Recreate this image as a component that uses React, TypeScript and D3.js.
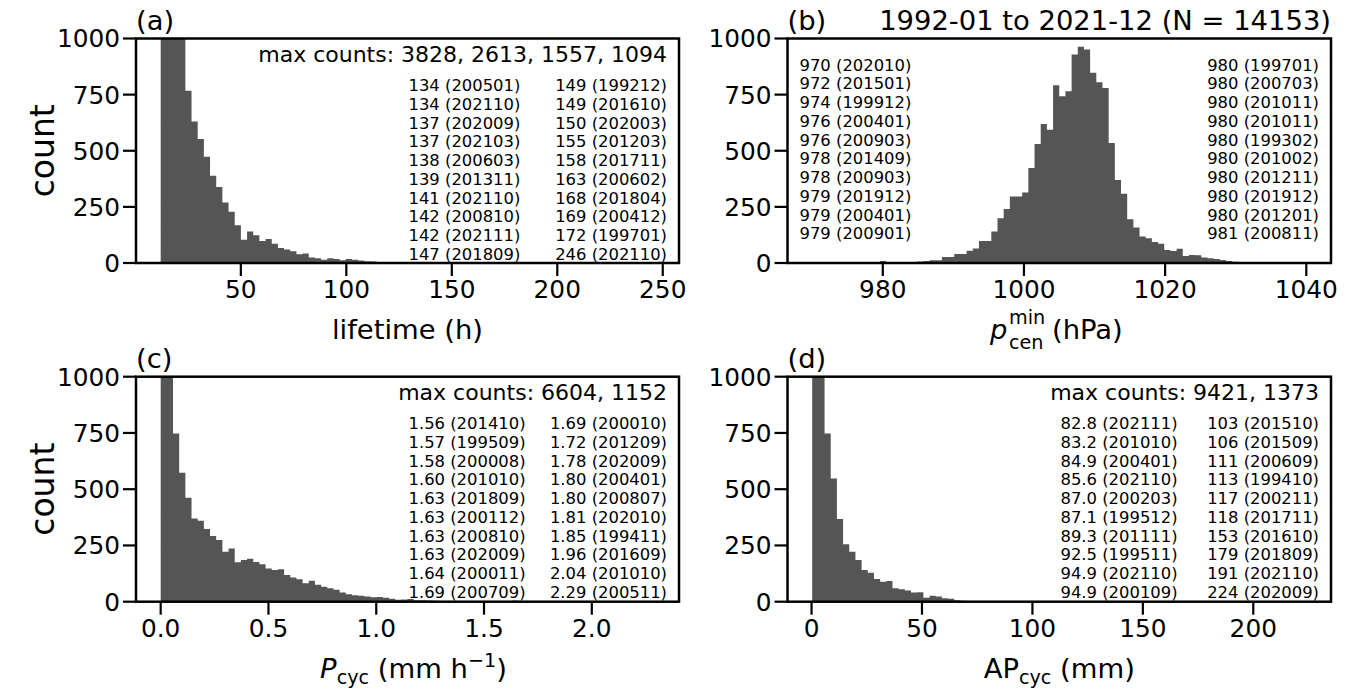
import React from "react";
import * as d3 from "d3";

// ---------- DATA ----------
const NBINS = 80;

// (a) lifetime (h): 80 bins between 12 and 246
const lifetimeRange = [12, 246];
const lifetimeCounts = [
  3828, 2613, 1557, 1094, 767, 630, 552, 473, 389, 339,
  270, 228, 168, 104, 140, 124, 98, 107, 86, 67,
  60, 52, 39, 42, 25, 21, 15, 21, 18, 12,
  18, 15, 11, 8, 7, 5, 4, 3, 3, 2,
  2, 2, 2, 2, 3, 0, 3, 1, 1, 1,
  0, 1, 0, 2, 1, 0, 0, 0, 0, 0,
  0, 0, 0, 0, 0, 0, 0, 0, 0, 0,
  0, 0, 0, 0, 0, 0, 0, 0, 0, 1,
];
const lifetimeTicks = [50, 100, 150, 200, 250];
const lifetimeMax = "max counts: 3828, 2613, 1557, 1094";
const lifetimeCol1 = [
  "134 (200501)", "134 (202110)", "137 (202009)", "137 (202103)", "138 (200603)",
  "139 (201311)", "141 (202110)", "142 (200810)", "142 (202111)", "147 (201809)",
];
const lifetimeCol2 = [
  "149 (199212)", "149 (201610)", "150 (202003)", "155 (201203)", "158 (201711)",
  "163 (200602)", "168 (201804)", "169 (200412)", "172 (199701)", "246 (202110)",
];

// (b) minimum central pressure (hPa): 80 bins between 970 and 1040
const pressureRange = [970, 1040];
const pressureCounts = [
  1, 0, 1, 0, 1, 0, 2, 0, 0, 2,
  3, 9, 2, 2, 3, 4, 5, 7, 9, 12,
  12, 27, 27, 40, 40, 55, 65, 98, 98, 140,
  199, 241, 296, 296, 314, 423, 530, 619, 594, 792,
  743, 765, 929, 963, 951, 847, 805, 780, 534, 370,
  308, 195, 158, 118, 110, 94, 86, 58, 54, 64,
  31, 36, 34, 24, 21, 18, 13, 9, 6, 4,
  3, 2, 2, 1, 1, 1, 1, 0, 0, 1,
];
const pressureTicks = [980, 1000, 1020, 1040];
const pressureColL = [
  "970 (202010)", "972 (201501)", "974 (199912)", "976 (200401)", "976 (200903)",
  "978 (201409)", "978 (200903)", "979 (201912)", "979 (200401)", "979 (200901)",
];
const pressureColR = [
  "980 (199701)", "980 (200703)", "980 (201011)", "980 (201011)", "980 (199302)",
  "980 (201002)", "980 (201211)", "980 (201912)", "980 (201201)", "981 (200811)",
];
const titleText = "1992-01 to 2021-12 (N = 14153)";

// (c) P_cyc (mm/h): 80 bins between 0 and 2.29
const precipRange = [0, 2.29];
const precipCounts = [
  6604, 1152, 748, 573, 462, 370, 360, 323, 292, 274,
  222, 237, 175, 185, 191, 177, 167, 148, 141, 144,
  119, 108, 100, 82, 93, 75, 67, 60, 53, 41,
  33, 29, 27, 23, 20, 21, 18, 13, 9, 10,
  12, 7, 6, 5, 4, 3, 3, 2, 2, 2,
  1, 1, 1, 1, 2, 2, 0, 5, 0, 2,
  1, 0, 3, 1, 1, 0, 0, 0, 1, 0,
  0, 1, 0, 0, 0, 0, 0, 0, 0, 1,
];
const precipTicks = [0.0, 0.5, 1.0, 1.5, 2.0];
const precipMax = "max counts: 6604, 1152";
const precipCol1 = [
  "1.56 (201410)", "1.57 (199509)", "1.58 (200008)", "1.60 (201010)", "1.63 (201809)",
  "1.63 (200112)", "1.63 (200810)", "1.63 (202009)", "1.64 (200011)", "1.69 (200709)",
];
const precipCol2 = [
  "1.69 (200010)", "1.72 (201209)", "1.78 (202009)", "1.80 (200401)", "1.80 (200807)",
  "1.81 (202010)", "1.85 (199411)", "1.96 (201609)", "2.04 (201010)", "2.29 (200511)",
];

// (d) AP_cyc (mm): 80 bins between 0.3 and 224
const accumRange = [0.3, 224];
const accumCounts = [
  9421, 1373, 748, 548, 368, 255, 222, 185, 141, 129,
  101, 89, 92, 60, 55, 50, 41, 42, 18, 27,
  23, 15, 13, 7, 4, 3, 3, 3, 2, 2,
  2, 3, 0, 3, 0, 0, 1, 1, 0, 1,
  1, 1, 1, 0, 0, 0, 0, 0, 0, 0,
  0, 0, 0, 0, 1, 0, 0, 0, 0, 0,
  0, 0, 0, 1, 0, 0, 0, 0, 1, 0,
  0, 0, 0, 0, 0, 0, 0, 0, 0, 1,
];
const accumTicks = [0, 50, 100, 150, 200];
const accumMax = "max counts: 9421, 1373";
const accumCol1 = [
  "82.8 (202111)", "83.2 (201010)", "84.9 (200401)", "85.6 (202110)", "87.0 (200203)",
  "87.1 (199512)", "89.3 (201111)", "92.5 (199511)", "94.9 (202110)", "94.9 (200109)",
];
const accumCol2 = [
  "103 (201510)", "106 (201509)", "111 (200609)", "113 (199410)", "117 (200211)",
  "118 (201711)", "153 (201610)", "179 (201809)", "191 (202110)", "224 (202009)",
];

const yTicks = [0, 250, 500, 750, 1000];

// ---------- STYLE ----------
const FONT = "'DejaVu Sans', sans-serif";
const BAR = "#555555";
const TICK_FS = 24.8;
const LABEL_FS = 27.4;
const SUB_FS = 19.2;
const MAX_FS = 22;
const LIST_FS = 16.4;
const LIST_DY = 18.75;

type PanelProps = {
  id: string;
  left: number; right: number; top: number; bottom: number;
  range: number[];
  counts: number[];
  ticks: number[];
  tickFmt: (v: number) => string;
  letter: string;
  xlabel: React.ReactNode;
  children?: React.ReactNode;
};

function Panel(p: PanelProps) {
  const [a, b] = p.range;
  const pad = 0.05 * (b - a);
  const x = d3.scaleLinear().domain([a - pad, b + pad]).range([p.left, p.right]);
  const y = d3.scaleLinear().domain([0, 1000]).range([p.bottom, p.top]);
  const w = (b - a) / NBINS;
  const clipId = "clip-" + p.id;
  const path = d3.path();
  path.moveTo(x(a), y(0));
  p.counts.forEach((c, i) => {
    const yc = y(Math.min(c, 1100));
    path.lineTo(x(a + i * w), yc);
    path.lineTo(x(a + (i + 1) * w), yc);
  });
  path.lineTo(x(b), y(0));
  path.closePath();
  return (
    <g>
      <defs>
        <clipPath id={clipId}>
          <rect x={p.left} y={p.top} width={p.right - p.left} height={p.bottom - p.top} />
        </clipPath>
      </defs>
      <g clipPath={`url(#${clipId})`}>
        <path d={path.toString()} fill={BAR} />
      </g>
      {p.children}
      <rect x={p.left} y={p.top} width={p.right - p.left} height={p.bottom - p.top}
        fill="none" stroke="#000" strokeWidth={2.5} />
      {yTicks.map((t) => (
        <g key={"y" + t}>
          <line x1={p.left - 13} x2={p.left} y1={y(t)} y2={y(t)} stroke="#000" strokeWidth={2.2} />
          <text x={p.left - 16} y={y(t)} dy="0.36em" textAnchor="end" fontSize={TICK_FS} fontFamily={FONT}>{t}</text>
        </g>
      ))}
      {p.ticks.map((t) => (
        <g key={"x" + t}>
          <line x1={x(t)} x2={x(t)} y1={p.bottom} y2={p.bottom + 13} stroke="#000" strokeWidth={2.2} />
          <text x={x(t)} y={p.bottom + 35} textAnchor="middle" fontSize={TICK_FS} fontFamily={FONT}>{p.tickFmt(t)}</text>
        </g>
      ))}
      <text x={p.left} y={p.top - 9} fontSize={27.4} fontFamily={FONT}>{p.letter}</text>
      {p.xlabel}
    </g>
  );
}

function MaxList(props: { right: number; top: number; max: string; col1: string[]; col2: string[] }) {
  const { right, top } = props;
  return (
    <g fontFamily={FONT}>
      <text x={right - 12} y={top + 23} textAnchor="end" fontSize={MAX_FS}>{props.max}</text>
      {props.col1.map((s, i) => (
        <text key={"a" + i} x={right - 270.5} y={top + 52.5 + i * LIST_DY} fontSize={LIST_FS}>{s}</text>
      ))}
      {props.col2.map((s, i) => (
        <text key={"b" + i} x={right - 12} y={top + 52.5 + i * LIST_DY} textAnchor="end" fontSize={LIST_FS}>{s}</text>
      ))}
    </g>
  );
}

export default function App() {
  const L1 = 136, R1 = 679, L2 = 787.5, R2 = 1331;
  const T1 = 38.5, B1 = 263, T2 = 376.7, B2 = 601.7;
  const fmtInt = (v: number) => String(v);
  const fmt1 = (v: number) => v.toFixed(1);
  return (
    <svg width={1356} height={689} style={{ position: "absolute", left: 0, top: 0, background: "#fff" }}
      fontFamily={FONT}>
      <rect x={0} y={0} width={1356} height={689} fill="#fff" />
      <text transform={`translate(54,${(T1 + B1) / 2}) rotate(-90)`} textAnchor="middle" fontSize={33}>count</text>
      <text transform={`translate(54,${(T2 + B2) / 2}) rotate(-90)`} textAnchor="middle" fontSize={33}>count</text>

      <Panel id="a" left={L1} right={R1} top={T1} bottom={B1} range={lifetimeRange} counts={lifetimeCounts}
        ticks={lifetimeTicks} tickFmt={fmtInt} letter="(a)"
        xlabel={<text x={(L1 + R1) / 2} y={B1 + 76} textAnchor="middle" fontSize={LABEL_FS}>lifetime (h)</text>}>
        <MaxList right={R1} top={T1} max={lifetimeMax} col1={lifetimeCol1} col2={lifetimeCol2} />
      </Panel>

      <Panel id="b" left={L2} right={R2} top={T1} bottom={B1} range={pressureRange} counts={pressureCounts}
        ticks={pressureTicks} tickFmt={fmtInt} letter="(b)"
        xlabel={
          <g fontSize={LABEL_FS}>
            <text x={990} y={B1 + 76} fontStyle="italic">p</text>
            <text x={1009} y={B1 + 86} fontSize={SUB_FS}>cen</text>
            <text x={1009} y={B1 + 61} fontSize={SUB_FS}>min</text>
            <text x={1052} y={B1 + 76}>(hPa)</text>
          </g>
        }>
        <g fontFamily={FONT} fontSize={LIST_FS}>
          {pressureColL.map((s, i) => (
            <text key={"l" + i} x={L2 + 12} y={T1 + 32 + i * LIST_DY}>{s}</text>
          ))}
          {pressureColR.map((s, i) => (
            <text key={"r" + i} x={R2 - 12} y={T1 + 32 + i * LIST_DY} textAnchor="end">{s}</text>
          ))}
        </g>
      </Panel>
      <text x={R2} y={T1 - 9} textAnchor="end" fontSize={27.4}>{titleText}</text>

      <Panel id="c" left={L1} right={R1} top={T2} bottom={B2} range={precipRange} counts={precipCounts}
        ticks={precipTicks} tickFmt={fmt1} letter="(c)"
        xlabel={
          <text x={(L1 + R1) / 2 + 6} y={B2 + 76} textAnchor="middle" fontSize={LABEL_FS}>
            <tspan fontStyle="italic">P</tspan>
            <tspan fontSize={SUB_FS} dy={6}>cyc</tspan>
            <tspan dy={-6}> (mm h</tspan>
            <tspan fontSize={SUB_FS} dy={-11}>−1</tspan>
            <tspan dy={11}>)</tspan>
          </text>
        }>
        <MaxList right={R1} top={T2} max={precipMax} col1={precipCol1} col2={precipCol2} />
      </Panel>

      <Panel id="d" left={L2} right={R2} top={T2} bottom={B2} range={accumRange} counts={accumCounts}
        ticks={accumTicks} tickFmt={fmtInt} letter="(d)"
        xlabel={
          <text x={(L2 + R2) / 2} y={B2 + 76} textAnchor="middle" fontSize={LABEL_FS}>
            <tspan>AP</tspan>
            <tspan fontSize={SUB_FS} dy={6}>cyc</tspan>
            <tspan dy={-6}> (mm)</tspan>
          </text>
        }>
        <MaxList right={R2} top={T2} max={accumMax} col1={accumCol1} col2={accumCol2} />
      </Panel>
    </svg>
  );
}
